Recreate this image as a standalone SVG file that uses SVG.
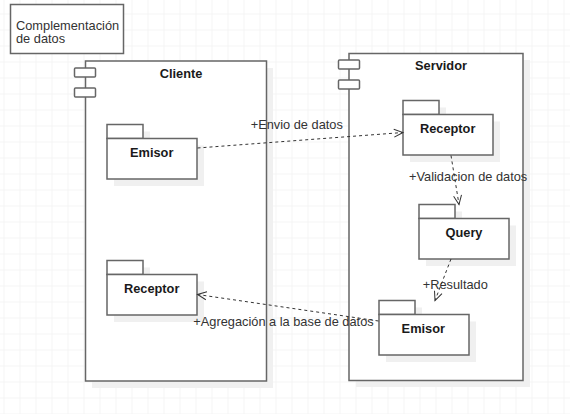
<svg xmlns="http://www.w3.org/2000/svg" width="570" height="414" viewBox="0 0 570 414">
<defs>
<pattern id="grid" x="3.5" y="13.5" width="16" height="16" patternUnits="userSpaceOnUse">
<path d="M0,0 H16 M0,0 V16" fill="none" stroke="#ececec" stroke-width="1"/>
</pattern>
<marker id="open" markerWidth="12" markerHeight="12" refX="10" refY="5" orient="auto" markerUnits="userSpaceOnUse" viewBox="0 0 12 10">
<path d="M1,1 L10,5 L1,9" fill="none" stroke="#333" stroke-width="1"/>
</marker>
<style>
.shape{fill:#fff;stroke:#666;stroke-width:1.5}
.shadow{fill:#f0f0f0;stroke:none}
.title{font-family:"Liberation Sans",Arial,sans-serif;font-size:12.8px;font-weight:bold;fill:#1a1a1a;text-anchor:middle}
.lbl{font-family:"Liberation Sans",Arial,sans-serif;font-size:12.8px;fill:#333}
.edge{fill:none;stroke:#333;stroke-width:1;stroke-dasharray:3 3;marker-end:url(#open)}
</style>
</defs>
<rect width="570" height="414" fill="#fff"/>
<rect width="570" height="414" fill="url(#grid)"/>

<g id="note">
<rect x="10.5" y="4.5" width="113" height="49" class="shape"/>
<text class="lbl" x="16" y="30">Complementación</text>
<text class="lbl" x="16" y="43">de datos</text>
</g>

<g id="cliente">
<rect x="92" y="68" width="181" height="320" class="shadow"/>
<rect x="85.5" y="61" width="181" height="320" class="shape"/>
<rect x="74.5" y="68" width="21" height="9" rx="1" class="shape"/>
<rect x="74.5" y="88" width="21" height="9" rx="1" class="shape"/>
<text class="title" x="181" y="77.5">Cliente</text>
</g>

<g id="servidor">
<rect x="356" y="60" width="174" height="327" class="shadow"/>
<rect x="349" y="53.5" width="174" height="327" class="shape"/>
<rect x="338.5" y="60" width="21" height="9" rx="1" class="shape"/>
<rect x="338.5" y="80" width="21" height="9" rx="1" class="shape"/>
<text class="title" x="441" y="70">Servidor</text>
</g>

<g id="cliente-emisor">
<rect x="114" y="131.5" width="36" height="14" class="shadow"/>
<rect x="114" y="145.5" width="90" height="40.5" class="shadow"/>
<rect x="107" y="124.5" width="36" height="14" class="shape"/>
<rect x="107" y="138.5" width="90" height="40.5" class="shape"/>
<text class="title" x="151.7" y="157">Emisor</text>
</g>

<g id="cliente-receptor">
<rect x="114" y="267.5" width="36" height="14" class="shadow"/>
<rect x="114" y="281.5" width="90" height="40.5" class="shadow"/>
<rect x="107" y="260.5" width="36" height="14" class="shape"/>
<rect x="107" y="274.5" width="90" height="40.5" class="shape"/>
<text class="title" x="151.7" y="293.3">Receptor</text>
</g>

<g id="servidor-receptor">
<rect x="410" y="107.5" width="36" height="14" class="shadow"/>
<rect x="410" y="121.5" width="90" height="40.5" class="shadow"/>
<rect x="403" y="100.5" width="36" height="14" class="shape"/>
<rect x="403" y="114.5" width="90" height="40.5" class="shape"/>
<text class="title" x="447.7" y="132.7">Receptor</text>
</g>

<g id="servidor-query">
<rect x="426" y="211.5" width="36" height="14" class="shadow"/>
<rect x="426" y="225.5" width="90" height="40.5" class="shadow"/>
<rect x="419" y="204.5" width="36" height="14" class="shape"/>
<rect x="419" y="218.5" width="90" height="40.5" class="shape"/>
<text class="title" x="464" y="237">Query</text>
</g>

<g id="servidor-emisor">
<rect x="386" y="307.5" width="36" height="14" class="shadow"/>
<rect x="386" y="321.5" width="90" height="40.5" class="shadow"/>
<rect x="379" y="300.5" width="36" height="14" class="shape"/>
<rect x="379" y="314.5" width="90" height="40.5" class="shape"/>
<text class="title" x="423.3" y="332.7">Emisor</text>
</g>

<g id="connectors">
<path class="edge" d="M197.5,148 L403,132.5"/>
<text class="lbl" x="250.7" y="129">+Envio de datos</text>
<path class="edge" d="M451,155.5 L459,204.5"/>
<text class="lbl" x="409" y="181">+Validacion de datos</text>
<path class="edge" d="M451,259 L435,300.5"/>
<text class="lbl" x="422.7" y="289">+Resultado</text>
<path class="edge" d="M378.5,321 L197.5,294.5"/>
<text class="lbl" x="193.3" y="326">+Agregación a la base de datos</text>
</g>
</svg>
